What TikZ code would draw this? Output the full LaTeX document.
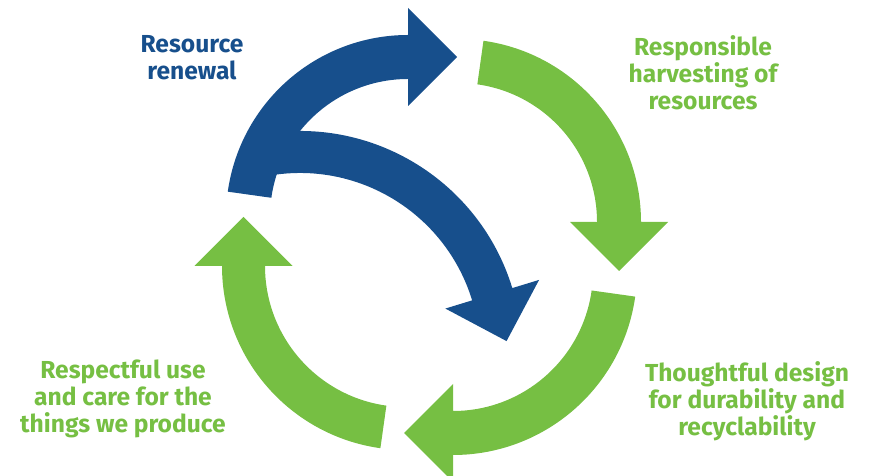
\documentclass[tikz,border=0pt]{standalone}
\usepackage{fontspec}
\setmainfont{Fira Sans}
\usetikzlibrary{calc}
\definecolor{renewblue}{RGB}{23,79,140}
\definecolor{cyclegreen}{RGB}{118,191,67}
\begin{document}
\begin{tikzpicture}[x=0.02cm, y=0.02cm,
    steplabel/.style={align=center, inner sep=0pt, anchor=base,
      font=\bfseries\fontsize{14}{15.6}\selectfont}]
    \useasboundingbox (0,0) rectangle (871,476);
    \def\hw{49}
    % center, inner radius, outer radius, tail angle, head angle, colour
    \def\cyclearrow#1#2#3#4#5#6{%
      \fill[#6] ($(#1)+(#4:#3)$) arc[start angle=#4, end angle=#5, radius=#3]
        -- ($(#1)+(#5:{(#2+#3)/2+\hw})$)
        -- ($(#1)+(#5:{(#2+#3)/2})+(#5-90:\hw)$)
        -- ($(#1)+(#5:{(#2+#3)/2-\hw})$)
        -- ($(#1)+(#5:#2)$) arc[start angle=#5, end angle=#4, radius=#2] -- cycle;}
    \coordinate (cRenew) at (408, 259);
    \coordinate (cCross) at (300, 123);
    \coordinate (cHarvest) at (458, 254);
    \coordinate (cDesign) at (453, 205);
    \coordinate (cCare) at (406, 210);
    \cyclearrow{cCross}{180}{222}{100}{17}{renewblue}
    \cyclearrow{cRenew}{138}{182}{172}{90}{renewblue}
    \cyclearrow{cHarvest}{139}{183}{82}{0}{cyclegreen}
    \cyclearrow{cDesign}{140}{184}{-8}{-90}{cyclegreen}
    \cyclearrow{cCare}{141}{184}{-98}{-180}{cyclegreen}
    \node (renewal) [steplabel, text=renewblue] at (192, 396) {Resource\\renewal};
    \node (harvesting) [steplabel, text=cyclegreen] at (703, 366) {Responsible\\harvesting of\\resources};
    \node (design) [steplabel, text=cyclegreen] at (747, 40) {Thoughtful design\\for durability and\\recyclability};
    \node (care) [steplabel, text=cyclegreen] at (123, 43) {Respectful use\\and care for the\\things we produce};
\end{tikzpicture}
\end{document}
